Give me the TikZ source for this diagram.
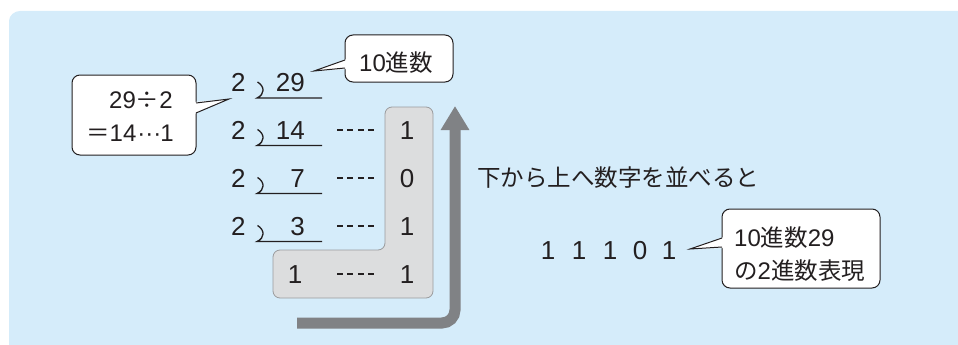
\documentclass[tikz,border=0pt]{standalone}
\usepackage{fontspec}
\setmainfont{Liberation Sans}
\newfontfamily\jp{Noto Sans CJK JP}
\usetikzlibrary{arrows.meta}
\definecolor{bgblue}{HTML}{D5ECFA}
\definecolor{ink}{HTML}{231F20}
\definecolor{lfill}{HTML}{DCDDDE}
\definecolor{ledge}{HTML}{9A9B9D}
\definecolor{arrowgrey}{HTML}{808285}
\newcommand{\jj}[1]{{\jp\fontsize{23.5}{27}\selectfont #1}}
\begin{document}
\begin{tikzpicture}[x=1pt,y=-1pt,
  txt/.style={inner sep=0pt, text=ink, font=\fontsize{26}{33}\selectfont},
  ctxt/.style={inner sep=0pt, text=ink, font=\fontsize{24}{33}\selectfont},
  bubble/.style={draw=ink, fill=white, line width=1pt, rounded corners=8pt, inner sep=0pt},
  dashline/.style={ink, line width=1.2pt, dash pattern=on 6pt off 4.4pt},
  divline/.style={ink, line width=1.3pt},
  ptr/.style={draw=ink, line width=1pt, line join=miter},
]
\useasboundingbox (0,0) rectangle (958,345);
% background panel
\fill[bgblue] (9,345) -- (9,21) .. controls (9,15.5) and (14.5,11) .. (20,11) -- (958,11) -- (958,345) -- cycle;

% grey L shape
\draw[ledge, fill=lfill, line width=0.8pt, rounded corners=7pt]
  (385,107) -- (433,107) -- (433,298) -- (273,298) -- (273,250) -- (385,250) -- cycle;

% big arrow
\coordinate (arS) at (297,323);
\coordinate (arC) at (455,323);
\coordinate (arE) at (455,106);
\draw[arrowgrey, line width=11pt, rounded corners=13pt, -{Triangle[width=27pt,length=24pt]}]
  (arS) -- (arC) -- (arE);

% division rows
\foreach \yb/\nm in {91.5/r1, 139/r2, 187/r3, 235/r4}{
  \node[txt, anchor=base west] (two\nm) at (231,\yb) {2};
  \draw[divline] (257.5,\yb-9.5) .. controls (265,\yb-5) and (265,\yb+3) .. (257,\yb+6.5) -- (322,\yb+6.5);
}
\node[txt, anchor=base east] (d1) at (305,91.5) {29};
\node[txt, anchor=base east] (d2) at (305,139) {14};
\node[txt, anchor=base east] (d3) at (305,187) {7};
\node[txt, anchor=base east] (d4) at (305,235) {3};
\node[txt, anchor=base] (d5) at (295,283) {1};

\foreach \yb in {139,187,235,283}{
  \draw[dashline] (337,\yb-9) -- (375,\yb-9);
}
\node[txt, anchor=base] (m1) at (407,139) {1};
\node[txt, anchor=base] (m2) at (407,187) {0};
\node[txt, anchor=base] (m3) at (407,235) {1};
\node[txt, anchor=base] (m4) at (407,283) {1};

% right texts
\node[txt, anchor=base west] (read) at (477,186) {\jj{下から上へ数字を並べると}};
\node[txt, anchor=base] (bn1) at (548,259) {1};
\node[txt, anchor=base] (bn2) at (579,259) {1};
\node[txt, anchor=base] (bn3) at (610,259) {1};
\node[txt, anchor=base] (bn4) at (640,259) {0};
\node[txt, anchor=base] (bn5) at (669,259) {1};

% left callout
\node[bubble, minimum width=124pt, minimum height=80pt] (cbA) at (134,115) {};
\coordinate (tipA) at (229,99);
\coordinate (a1) at (196,103);
\coordinate (a2) at (196,113);
\fill[white] (194,102) -- (tipA) -- (194,114) -- cycle;
\draw[ptr] (a1) -- (tipA) -- (a2);
\node[ctxt, anchor=base west] (cA1) at (109,108) {29\jj{÷}2};
\node[ctxt, anchor=base west] (cA2) at (86,141) {\jj{＝}14\kern1pt···\kern-1pt1};

% top callout
\node[bubble, minimum width=108pt, minimum height=47pt] (cbB) at (399,58.5) {};
\coordinate (tipB) at (314,71);
\coordinate (b1) at (345,60);
\coordinate (b2) at (345,68);
\fill[white] (347,59) -- (tipB) -- (347,69) -- cycle;
\draw[ptr] (b1) -- (tipB) -- (b2);
\node[ctxt, anchor=base west] (cB) at (359,71) {10\jj{進数}};

% right callout
\node[bubble, minimum width=158pt, minimum height=79pt] (cbC) at (801,248.5) {};
\coordinate (tipC) at (690,249);
\coordinate (c1) at (722,238);
\coordinate (c2) at (722,247);
\fill[white] (724,237) -- (tipC) -- (724,248) -- cycle;
\draw[ptr] (c1) -- (tipC) -- (c2);
\node[ctxt, anchor=base west] (cC1) at (734,246) {10\jj{進数}29};
\node[ctxt, anchor=base west] (cC2) at (734,279) {\jj{の}2\jj{進数表現}};
\end{tikzpicture}
\end{document}
